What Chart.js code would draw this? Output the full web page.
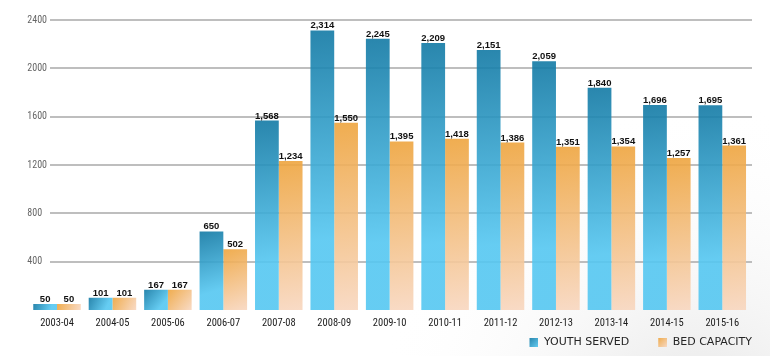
<!DOCTYPE html>
<html>
<head>
<meta charset="utf-8">
<script src="https://cdn.jsdelivr.net/npm/chart.js@4"></script>
<style>
html,body{margin:0;padding:0;background:#fff;}
#wrap{width:770px;height:356px;position:relative;}
</style>
</head>
<body>
<div id="wrap"><canvas id="c"></canvas></div>
<script>
const categories = ['2003-04','2004-05','2005-06','2006-07','2007-08','2008-09','2009-10','2010-11','2011-12','2012-13','2013-14','2014-15','2015-16'];
const youthServed = [50,101,167,650,1568,2314,2245,2209,2151,2059,1840,1696,1695];
const bedCapacity = [50,101,167,502,1234,1550,1395,1418,1386,1351,1354,1257,1361];
const seriesNames = ['YOUTH SERVED','BED CAPACITY'];
const yTickValues = [400,800,1200,1600,2000,2400];

const palettes = [
  {dark:'rgba(18,121,164,0.9)', light:'rgba(85,199,241,0.9)', stop:0.75},
  {dark:'rgba(238,164,61,0.9)', light:'rgba(248,215,192,0.9)', stop:1}
];
const narrow = "'Liberation Sans Narrow','Arial Narrow','Roboto Condensed',sans-serif";

function swatch(i){
  const W = 33, H = 9;
  const cv = document.createElement('canvas');
  cv.width = W; cv.height = H;
  const c = cv.getContext('2d');
  const g = c.createLinearGradient(W-H,0,W,H);
  g.addColorStop(0, palettes[i].dark);
  g.addColorStop(1, palettes[i].light);
  c.fillStyle = g;
  c.fillRect(W-H,0,H,H);
  return cv;
}

const bgPlugin = {
  id:'bg',
  beforeDraw(chart){
    const {ctx,width,height} = chart;
    ctx.save();
    ctx.fillStyle = '#fff';
    ctx.fillRect(0,0,width,height);
    const g = ctx.createRadialGradient(700,430,0,700,430,330);
    g.addColorStop(0,'#e4e4e4');
    g.addColorStop(1,'rgba(255,255,255,0)');
    ctx.fillStyle = g;
    ctx.fillRect(0,0,width,height);
    ctx.restore();
  }
};

const gridPlugin = {
  id:'grid',
  beforeDatasetsDraw(chart){
    const {ctx} = chart;
    const y = chart.scales.y;
    const right = chart.chartArea.right + 2;
    ctx.save();
    ctx.strokeStyle = '#a9a9a9';
    ctx.lineWidth = 1.5;
    y.ticks.forEach(t => {
      const py = Math.round(y.getPixelForValue(t.value));
      ctx.beginPath();
      ctx.moveTo(50, py);
      ctx.lineTo(right, py);
      ctx.stroke();
    });
    ctx.restore();
    // per-bar diagonal gradients
    chart.data.datasets.forEach((ds, di) => {
      const meta = chart.getDatasetMeta(di);
      const p = palettes[di];
      meta.data.forEach(el => {
        const {x, y: top, base, width} = el.getProps(['x','y','base','width'], true);
        const l = x - width/2, r = x + width/2;
        const t = Math.min(top, base), b = Math.max(top, base);
        const g = ctx.createLinearGradient(l, t, r, b);
        g.addColorStop(0, p.dark);
        g.addColorStop(p.stop, p.light);
        g.addColorStop(1, p.light);
        el.options = Object.assign({}, el.options, {backgroundColor: g});
      });
    });
  }
};

const labelPlugin = {
  id:'vals',
  afterDatasetsDraw(chart){
    const {ctx} = chart;
    ctx.save();
    ctx.font = "bold 9.5px 'Liberation Sans', Arial, sans-serif";
    ctx.fillStyle = '#111';
    ctx.textAlign = 'center';
    ctx.textBaseline = 'alphabetic';
    chart.data.datasets.forEach((ds, di) => {
      const meta = chart.getDatasetMeta(di);
      meta.data.forEach((el, i) => {
        ctx.fillText(ds.data[i].toLocaleString('en-US'), el.x, el.y - 2);
      });
    });
    ctx.restore();
  }
};

new Chart(document.getElementById('c'), {
  type:'bar',
  data:{
    labels: categories,
    datasets:[
      {label: seriesNames[0], data: youthServed, yAxisID:'y', backgroundColor: palettes[0].dark, borderWidth:0, categoryPercentage:0.857, barPercentage:1},
      {label: seriesNames[1], data: bedCapacity, yAxisID:'y', backgroundColor: palettes[1].dark, borderWidth:0, categoryPercentage:0.857, barPercentage:1}
    ]
  },
  options:{
    responsive:true,
    maintainAspectRatio:false,
    animation:false,
    devicePixelRatio:1,
    layout:{padding:{top:20,left:0,right:13,bottom:0}},
    plugins:{
      tooltip:{enabled:false},
      legend:{
        position:'bottom',
        align:'end',
        maxHeight:24,
        labels:{
          usePointStyle:true,
          pointStyleWidth:33,
          boxHeight:9,
          padding:5,
          color:'#252525',
          font:{family:"'DejaVu Sans', sans-serif", size:11},
          generateLabels: chart => chart.data.datasets.map((ds, i) => ({
            text: ds.label,
            pointStyle: swatch(i),
            fillStyle: palettes[i].dark,
            strokeStyle: 'rgba(0,0,0,0)',
            lineWidth: 0,
            hidden: !chart.isDatasetVisible(i),
            datasetIndex: i,
            fontColor: '#252525'
          }))
        }
      }
    },
    scales:{
      x:{
        grid:{display:false, drawTicks:false},
        border:{display:false},
        ticks:{color:'#1c1c1c', font:{family:narrow, size:10.5}, padding:7, maxRotation:0, autoSkip:false},
        afterFit: s => { s.height = 22; }
      },
      y:{
        min:0, max:2400,
        position:'left',
        grid:{display:false, drawTicks:false},
        border:{display:false},
        afterBuildTicks: s => { s.ticks = yTickValues.map(v => ({value:v})); },
        ticks:{mirror:true, crossAlign:'near', padding:-2, color:'#666', font:{family:narrow, size:10}, callback: v => String(v)},
        afterFit: s => { s.width = 29.3; }
      },
      y2:{
        type:'linear',
        position:'right',
        display:true,
        grid:{display:false, drawTicks:false},
        border:{display:false},
        ticks:{display:false},
        afterFit: s => { s.width = 7; }
      }
    }
  },
  plugins:[bgPlugin, gridPlugin, labelPlugin]
});
</script>
</body>
</html>
